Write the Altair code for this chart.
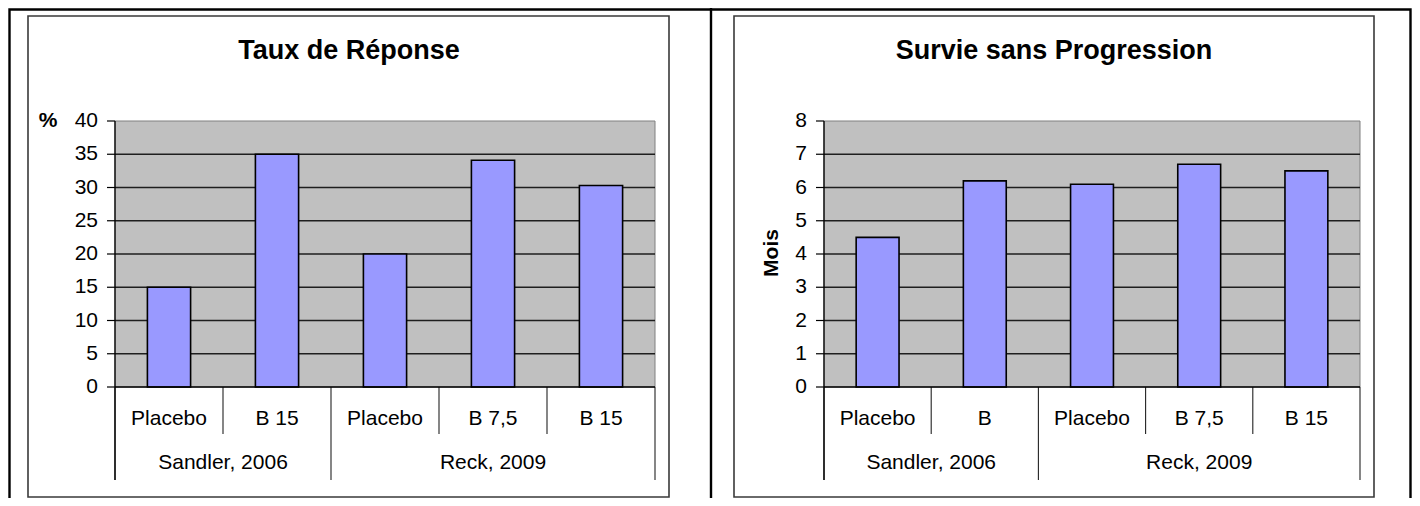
import altair as alt
import pandas as pd

# ---------------- data ----------------
groups = ["Sandler, 2006", "Sandler, 2006", "Reck, 2009", "Reck, 2009", "Reck, 2009"]
labels_left = ["Placebo", "B 15", "Placebo", "B 7,5", "B 15"]
labels_right = ["Placebo", "B", "Placebo", "B 7,5", "B 15"]
taux_reponse = [15, 35, 20, 34.1, 30.3]
survie_sp = [4.5, 6.2, 6.1, 6.7, 6.5]
ticks_left = [0, 5, 10, 15, 20, 25, 30, 35, 40]
ticks_right = [0, 1, 2, 3, 4, 5, 6, 7, 8]

FONT = "Liberation Sans"
W, H = 1404, 490
Y0, YT = 379, 113          # pixel rows of value 0 and of the top of the plot
Y_SHORT, Y_LONG = 426, 472  # ends of separators below the axis
FS = 21


def panel(labels, values, ticks, title, ylab, ylab_rot, l, r, box, title_x, ylab_xy):
    n = len(labels)
    ymax = ticks[-1]
    keys = [f"k{i}" for i in range(n)]
    ys = alt.Scale(domain=[0, ymax], range=[Y0, YT], nice=False, zero=False)
    xs = alt.Scale(domain=[0, n], range=[l, r], nice=False, zero=False)
    xb = alt.Scale(domain=keys, range=[l, r], paddingInner=0.6, paddingOuter=0.3)
    one = pd.DataFrame({"a": [0]})

    bg = pd.DataFrame({"x0": [0], "x1": [n], "y0": [0], "y1": [ymax]})
    back = alt.Chart(bg).mark_rect(fill="#C0C0C0", stroke="#808080", strokeWidth=1).encode(
        x=alt.X("x0:Q", scale=xs, axis=None), x2="x1:Q",
        y=alt.Y("y0:Q", scale=ys, axis=None), y2="y1:Q")

    tdf = pd.DataFrame({"v": ticks, "x0": 0, "x1": n})
    grid = alt.Chart(tdf[(tdf.v > 0) & (tdf.v < ymax)]).mark_rule(color="#1e1e1e", strokeWidth=1.3).encode(
        x=alt.X("x0:Q", scale=xs, axis=None), x2="x1:Q",
        y=alt.Y("v:Q", scale=ys, axis=None))

    bdf = pd.DataFrame({"key": keys, "val": values, "base": 0})
    bars = alt.Chart(bdf).mark_bar(fill="#9999FF", stroke="#000000", strokeWidth=1.6).encode(
        x=alt.X("key:N", scale=xb, axis=None, sort=keys),
        y=alt.Y("val:Q", scale=ys, axis=None), y2="base:Q")

    tick_marks = alt.Chart(tdf).mark_rule(color="#000000", strokeWidth=1.2).encode(
        y=alt.Y("v:Q", scale=ys, axis=None), x=alt.value(l - 8), x2=alt.value(l))
    tick_labels = alt.Chart(tdf).mark_text(font=FONT, fontSize=FS, align="right", baseline="middle",
                                           color="#000000").encode(
        y=alt.Y("v:Q", scale=ys, axis=None), x=alt.value(l - 17), text="v:Q")

    xaxis = alt.Chart(one).mark_rule(color="#000000", strokeWidth=1.3).encode(
        x=alt.value(l), x2=alt.value(r), y=alt.value(Y0))
    yaxis = alt.Chart(one).mark_rule(color="#000000", strokeWidth=1.3).encode(
        x=alt.value(l), y=alt.value(YT), y2=alt.value(Y_LONG))

    # separators below the axis: group edges long, inner boundaries short
    bounds = list(range(n + 1))
    long_b = [0, n] + [i for i in range(1, n) if groups[i] != groups[i - 1]]
    sdf = pd.DataFrame({"pos": bounds, "long": [b in long_b for b in bounds]})
    sep_long = alt.Chart(sdf[sdf.long]).mark_rule(color="#222222", strokeWidth=1.1).encode(
        x=alt.X("pos:Q", scale=xs, axis=None), y=alt.value(Y0), y2=alt.value(Y_LONG))
    sep_short = alt.Chart(sdf[~sdf.long]).mark_rule(color="#222222", strokeWidth=1.1).encode(
        x=alt.X("pos:Q", scale=xs, axis=None), y=alt.value(Y0), y2=alt.value(Y_SHORT))

    cdf = pd.DataFrame({"mid": [i + 0.5 for i in range(n)], "lab": labels})
    cat_text = alt.Chart(cdf).mark_text(font=FONT, fontSize=FS, baseline="middle", color="#000000").encode(
        x=alt.X("mid:Q", scale=xs, axis=None), y=alt.value(411), text="lab:N")

    gnames = list(dict.fromkeys(groups))
    gcent = [sum(i for i in range(n) if groups[i] == g) / groups.count(g) + 0.5 for g in gnames]
    gdf = pd.DataFrame({"c": gcent, "g": gnames})
    grp_text = alt.Chart(gdf).mark_text(font=FONT, fontSize=FS, baseline="middle", color="#000000").encode(
        x=alt.X("c:Q", scale=xs, axis=None), y=alt.value(455), text="g:N")

    ttl = alt.Chart(one).mark_text(font=FONT, fontSize=27, fontWeight="bold", baseline="middle",
                                   color="#000000", text=title).encode(
        x=alt.value(title_x), y=alt.value(43))
    ylab_mark = alt.Chart(one).mark_text(font=FONT, fontSize=21, fontWeight="bold", baseline="middle",
                                         color="#000000", text=ylab, angle=270 if ylab_rot else 0).encode(
        x=alt.value(ylab_xy[0]), y=alt.value(ylab_xy[1]))

    frame = alt.Chart(one).mark_rect(fillOpacity=0, stroke="#3a3a3a", strokeWidth=1.6).encode(
        x=alt.value(box[0]), x2=alt.value(box[1]), y=alt.value(8), y2=alt.value(489))

    return [frame, back, grid, bars, tick_marks, tick_labels, sep_long, sep_short, xaxis, yaxis,
            cat_text, grp_text, ttl, ylab_mark]


left = panel(labels_left, taux_reponse, ticks_left, "Taux de Réponse", "%", False,
             107, 647, (20, 661), 341, (40, 113))
right = panel(labels_right, survie_sp, ticks_right, "Survie sans Progression", "Mois", True,
              816, 1352, (726, 1366), 1046, (764, 245))

one = pd.DataFrame({"a": [0]})
outer = alt.Chart(one).mark_rect(fillOpacity=0, stroke="#000000", strokeWidth=2.4).encode(
    x=alt.value(1.5), x2=alt.value(1402.5), y=alt.value(1.5), y2=alt.value(520))
divider = alt.Chart(one).mark_rule(color="#000000", strokeWidth=2.4).encode(
    x=alt.value(703), y=alt.value(0), y2=alt.value(H))

chart = alt.layer(outer, divider, *left, *right).resolve_scale(
    x="independent", y="independent"
).properties(
    width=W, height=H, padding=0,
    autosize=alt.AutoSizeParams(type="none"),
    background="#FFFFFF",
).configure_view(stroke="transparent")

chart.save("out.html", embed_options={"renderer": "svg", "actions": False})
